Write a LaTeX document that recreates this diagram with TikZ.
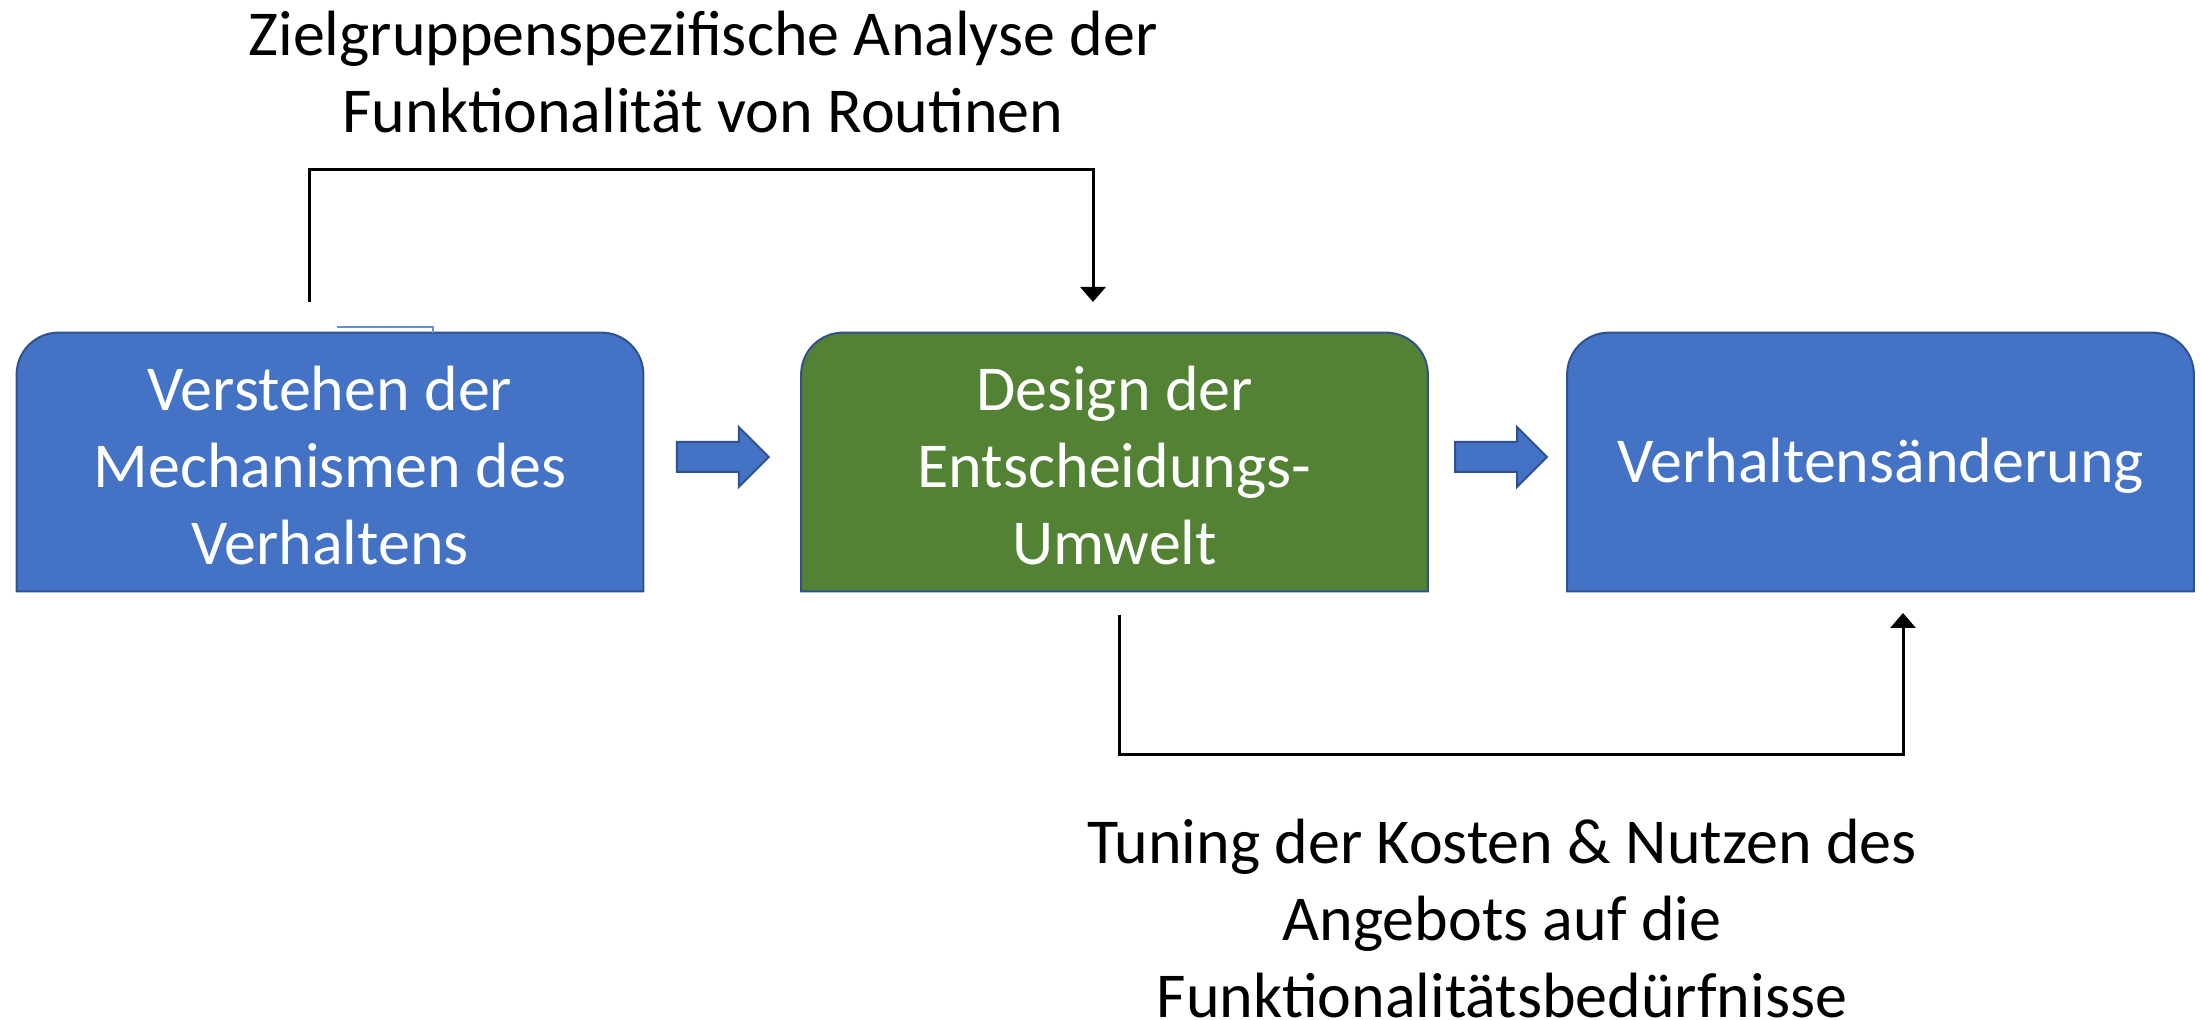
\documentclass[tikz,border=0pt]{standalone}
\usepackage{fontspec}
\setmainfont{Carlito}
\usetikzlibrary{arrows.meta,backgrounds,calc,shapes.arrows}
\definecolor{boxblue}{HTML}{4472C4}
\definecolor{boxgreen}{HTML}{548235}
\definecolor{boxline}{HTML}{2F528F}
\tikzset{
  stage/.style={minimum width=313pt, minimum height=129pt, inner sep=0pt,
    align=center, text=white, font=\fontsize{32}{38.5}\selectfont},
  caption/.style={inner sep=0pt, align=center, font=\fontsize{32}{38.5}\selectfont},
  blockarrow/.style={single arrow, draw=boxline, fill=boxblue, line width=1pt,
    minimum height=46pt, inner xsep=0pt, inner ysep=7pt,
    single arrow head extend=7.5pt, single arrow tip angle=90},
  link/.style={line width=1.5pt, -{Triangle[width=12.5pt,length=7.5pt]}}
}
\begin{document}
\begin{tikzpicture}
[x=0.5pt,y=-0.5pt]
  \useasboundingbox (0,0) rectangle (2201,1020);

  % the three stages
  \node[stage] (b1) at (330,466) {Verstehen der\\Mechanismen des\\Verhaltens};
  \node[stage] (b2) at (1114.5,466) {Design der\\Entscheidungs-\\Umwelt};
  \node[stage] (b3) at (1880.5,466) {Verhaltensänderung};

  % boxes with round top corners, behind the text
  \begin{scope}[on background layer]
    \foreach \n/\c in {b1/boxblue,b2/boxgreen,b3/boxblue}
      \draw[boxline, line width=1pt, fill=\c] ([yshift=2pt]\n.south west)
        -- ([yshift=-19pt]\n.north west) arc[start angle=180, end angle=90, radius=21pt]
        -- ([xshift=-21pt,yshift=2pt]\n.north east) arc[start angle=90, end angle=0, radius=21pt]
        -- ([yshift=2pt]\n.south east) -- cycle;
  \end{scope}
  \draw[boxblue!80!white, line width=0.6pt] (337,327) -- (433,327) -- (433,333);

  % block arrows between the stages
  \node[blockarrow] (a1) at ([xshift=-3.5pt,yshift=4.5pt]$(b1.east)!0.5!(b2.west)$) {};
  \node[blockarrow] (a2) at ([xshift=-2pt,yshift=4.5pt]$(b2.east)!0.5!(b3.west)$) {};

  % feedback lines
  \coordinate (c1) at (309,302);
  \coordinate (k1) at (309,170);
  \coordinate (c2) at (1093,302);
  \draw[link] (c1) -- (k1) -| (c2);

  \coordinate (c3) at (1119,615);
  \coordinate (k2) at (1119,755);
  \coordinate (c4) at (1903,613);
  \draw[link] (c3) -- (k2) -| (c4);

  \node[caption] (zg) at (703,72) {Zielgruppenspezifische Analyse der\\Funktionalität von Routinen};
  \node[caption] (tk) at (1502,919) {Tuning der Kosten \& Nutzen des\\Angebots auf die\\Funktionalitätsbedürfnisse};
\end{tikzpicture}
\end{document}
